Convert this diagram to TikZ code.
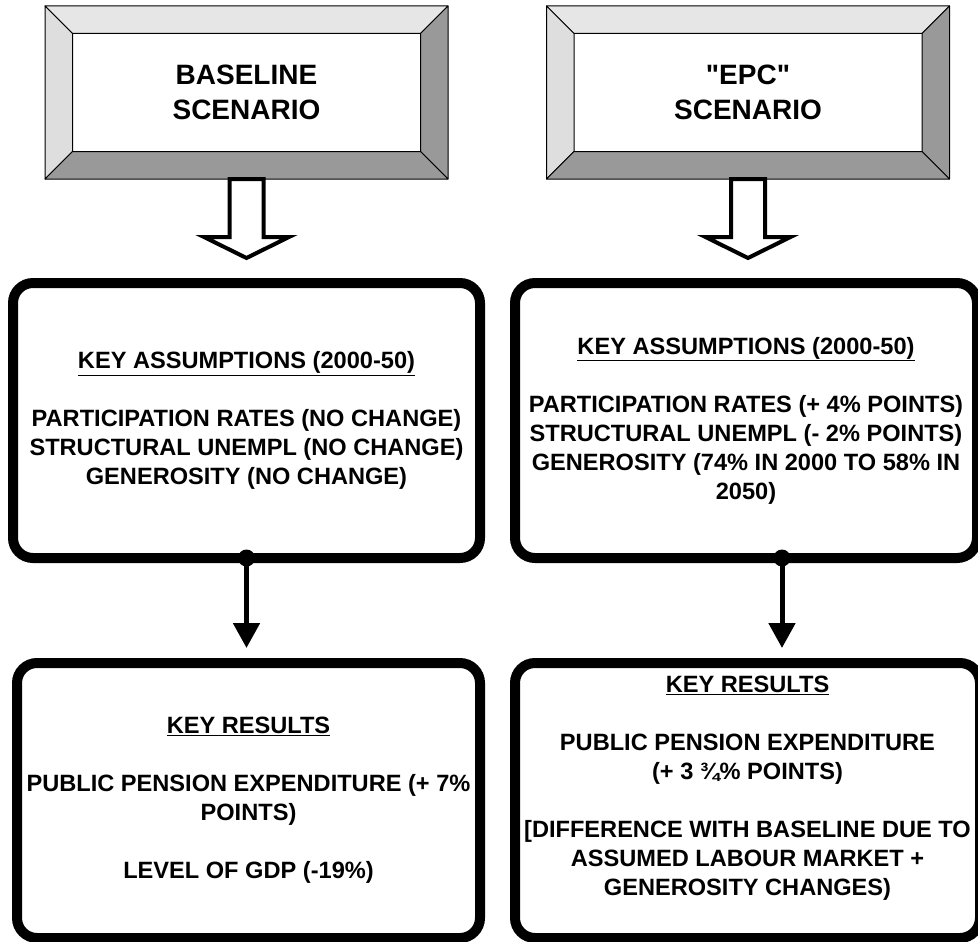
\documentclass[tikz,border=0pt]{standalone}
\usepackage{fontspec}
\setmainfont{Liberation Sans}[Ligatures=TeXOff]
\usetikzlibrary{arrows.meta,calc}
\definecolor{bevlight}{HTML}{E6E6E6}
\definecolor{bevleft}{HTML}{DEDEDE}
\definecolor{bevdark}{HTML}{999999}
\tikzset{
  bevelbox/.style={minimum width=403pt, minimum height=173pt, inner sep=0pt, outer sep=0pt, align=center, font=\fontsize{28}{35}\selectfont\bfseries},
  face/.style={draw=black, line width=1pt, line join=round},
  keybox/.style={draw=black, line width=10pt, rounded corners=20pt, inner sep=0pt, outer sep=0pt, align=center, font=\fontsize{23.6}{29}\selectfont\bfseries},
  hollow/.style={draw=black, line width=4pt, fill=white, line join=miter},
  conn/.style={line width=5pt, -{Triangle[width=26pt,length=25pt]}, shorten >=15pt},
  joint/.style={fill=black}
}
\newcommand\bevelfaces[1]{%
  \filldraw[face, fill=bevlight] (#1.north west) -- (#1.north east) -- ($(#1.north east)+(-27.5,27.5)$) -- ($(#1.north west)+(27.5,27.5)$) -- cycle;
  \filldraw[face, fill=bevleft] (#1.north west) -- ($(#1.north west)+(27.5,27.5)$) -- ($(#1.south west)+(27.5,-27.5)$) -- (#1.south west) -- cycle;
  \filldraw[face, fill=bevdark] (#1.north east) -- (#1.south east) -- ($(#1.south east)+(-27.5,-27.5)$) -- ($(#1.north east)+(-27.5,27.5)$) -- cycle;
  \filldraw[face, fill=bevdark] (#1.south west) -- (#1.south east) -- ($(#1.south east)+(-27.5,-27.5)$) -- ($(#1.south west)+(27.5,-27.5)$) -- cycle;
}
\newcommand\hollowarrow[1]{%
  \filldraw[hollow] ($(#1.south)+(-17,0)$) -- ($(#1.south)+(-17,58)$) -- ($(#1.south)+(-42.5,58)$) -- ($(#1.south)+(0,79)$) -- ($(#1.south)+(42.5,58)$) -- ($(#1.south)+(17,58)$) -- ($(#1.south)+(17,0)$) -- cycle;
}
\begin{document}
\begin{tikzpicture}[x=1pt,y=-1pt]
\useasboundingbox (0,0) rectangle (978,942);
\clip (0,0) rectangle (978,942);
\fill[white] (0,0) rectangle (978,942);

% top bevel boxes
\node[bevelbox] (bl) at (246.5,92.5) {BASELINE\\SCENARIO};
\bevelfaces{bl}
\node[bevelbox] (be) at (748,92.5) {"EPC"\\SCENARIO};
\bevelfaces{be}

% hollow arrows
\hollowarrow{bl}
\hollowarrow{be}

% key assumption boxes
\node[keybox, minimum width=467pt, minimum height=275pt] (la) at (246.5,420.5)
  {\underline{KEY ASSUMPTIONS (2000-50)}\\ \mbox{}\\
   PARTICIPATION RATES (NO CHANGE)\\
   STRUCTURAL UNEMPL (NO CHANGE)\\
   GENEROSITY (NO CHANGE)};
\node[keybox, minimum width=462pt, minimum height=275pt] (ra) at (746,420.5)
  {\underline{KEY ASSUMPTIONS (2000-50)}\\ \mbox{}\\
   PARTICIPATION RATES (+ 4\% POINTS)\\
   STRUCTURAL UNEMPL (- 2\% POINTS)\\
   GENEROSITY (74\% IN 2000 TO 58\% IN\\
   2050)};

% key results boxes
\node[keybox, minimum width=463pt, minimum height=275pt] (lr) at (248.5,800.5)
  {\underline{KEY RESULTS}\\ \mbox{}\\
   PUBLIC PENSION EXPENDITURE (+ 7\%\\
   POINTS)\\ \mbox{}\\
   LEVEL OF GDP (-19\%)};
\node[keybox, minimum width=465pt, minimum height=275pt] (rr) at (747.5,800.5)
  {\underline{KEY RESULTS}\\ \mbox{}\\
   PUBLIC PENSION EXPENDITURE\\
   (+ 3 ¾\% POINTS)\\ \mbox{}\\
   {[}DIFFERENCE WITH BASELINE DUE TO\\
   ASSUMED LABOUR MARKET +\\
   GENEROSITY CHANGES)\\ \mbox{}};

% connectors
\coordinate (ldot) at (la.south);
\coordinate (rdot) at ($(ra.south)+(36,0)$);
\draw[conn] (ldot) -- (ldot |- lr.north);
\draw[conn] (rdot) -- (rdot |- rr.north);
\fill[joint] (ldot) circle (8.5);
\fill[joint] (rdot) circle (8.5);
\end{tikzpicture}
\end{document}
